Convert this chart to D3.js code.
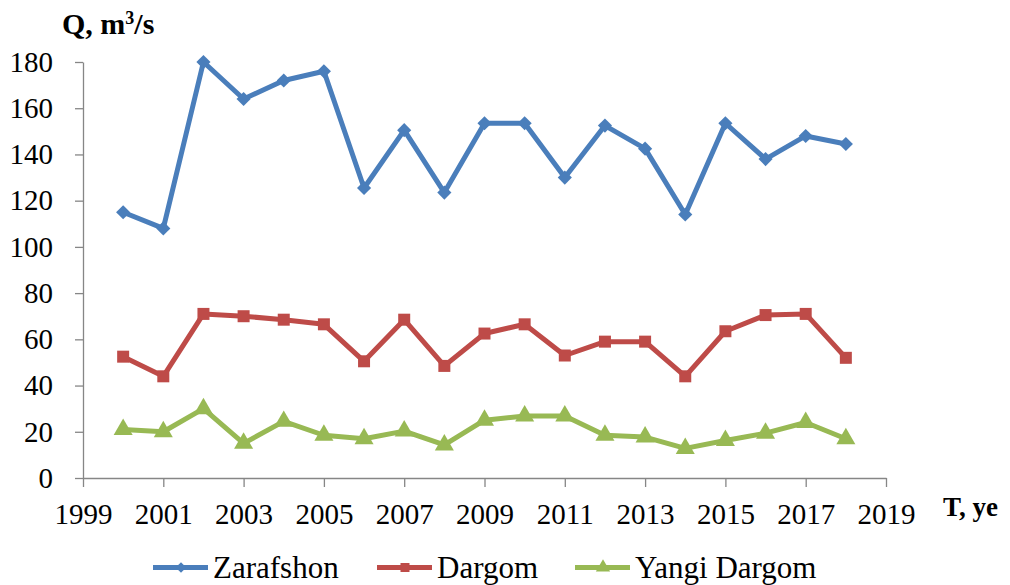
<!DOCTYPE html>
<html>
<head>
    <meta charset="utf-8">
    <title>Q, m3/s</title>
    <style>
        body { margin: 0; background: #fff; overflow: hidden; }
        svg text { font-family: "Liberation Serif", "Times New Roman", serif; fill: #000; }
        .axis path, .axis line { stroke: #868686; stroke-width: 1.3px; }
        .axis text { font-size: 29px; }
    </style>
</head>
<body>
    <script src="https://d3js.org/d3.v7.min.js"></script>
    <script>
        var width = 1010, height = 585;
        var serif = "'Liberation Serif', 'Times New Roman', serif";

        // Data
        var years = [2000, 2001, 2002, 2003, 2004, 2005, 2006, 2007, 2008, 2009,
                     2010, 2011, 2012, 2013, 2014, 2015, 2016, 2017, 2018];
        var zarafshon = [115, 108, 180, 164, 172, 176, 125.5, 150.5, 123.5, 153.5,
                         153.5, 130, 152.5, 142.5, 114, 153.5, 138, 148, 144.5];
        var dargom = [52.5, 44, 71, 70, 68.5, 66.5, 50.5, 68.5, 48.5, 62.5,
                      66.5, 53, 59, 59, 44, 63.5, 70.5, 71, 52];
        var yangiDargom = [21, 20, 30, 15, 24.5, 18.5, 17, 20.3, 14.3, 25,
                           26.8, 26.8, 18.5, 17.7, 12.8, 16.2, 19.4, 24, 17];
        var xTicks = [1999, 2001, 2003, 2005, 2007, 2009, 2011, 2013, 2015, 2017, 2019];
        var yTicks = [0, 20, 40, 60, 80, 100, 120, 140, 160, 180];

        var series = [
            { name: "Zarafshon", values: zarafshon, color: "#4A7EBB", marker: "diamond" },
            { name: "Dargom", values: dargom, color: "#BE4B48", marker: "square" },
            { name: "Yangi Dargom", values: yangiDargom, color: "#98B954", marker: "triangle" }
        ];

        var svg = d3.select("body").append("svg")
            .attr("width", width)
            .attr("height", height)
            .attr("font-family", serif);

        var x = d3.scaleLinear().domain([1999, 2019]).range([83, 886]);
        var y = d3.scaleLinear().domain([0, 180]).range([478, 62]);

        // axes
        svg.append("g")
            .attr("class", "axis")
            .attr("transform", "translate(0,478)")
            .call(d3.axisBottom(x).tickValues(xTicks).tickFormat(d3.format("d"))
                .tickSize(9).tickSizeOuter(0).tickPadding(16));

        svg.append("g")
            .attr("class", "axis")
            .attr("transform", "translate(83,0)")
            .call(d3.axisLeft(y).tickValues(yTicks).tickSize(8).tickSizeOuter(0).tickPadding(22));

        svg.selectAll(".axis").attr("font-family", serif).attr("font-size", null);

        // axis titles
        svg.append("text")
            .attr("x", 62).attr("y", 34)
            .attr("font-family", serif)
            .style("font-size", "30px").style("font-weight", "bold")
            .html("Q, m<tspan dy='-10' font-size='18px'>3</tspan><tspan dy='10'>/s</tspan>");

        svg.append("text")
            .attr("x", 943).attr("y", 516)
            .attr("font-family", serif)
            .style("font-size", "27px").style("font-weight", "bold")
            .text("T, ye");

        // markers: diamond = rotated square
        function marker(sel, type, s) {
            if (type === "triangle") {
                sel.attr("d", d3.symbol().type(d3.symbolTriangle).size(s * s * 0.8)());
            } else {
                sel.attr("d", d3.symbol().type(d3.symbolSquare).size(s * s)());
            }
        }
        var markerSize = { diamond: 10, square: 12, triangle: 14 };

        var line = d3.line()
            .x(function(d, i) { return x(years[i]); })
            .y(function(d) { return y(d); });

        series.forEach(function(s) {
            var g = svg.append("g");
            g.append("path")
                .attr("d", line(s.values))
                .attr("fill", "none")
                .attr("stroke", s.color)
                .attr("stroke-width", 5)
                .attr("stroke-linejoin", "round");
            g.selectAll("path.pt")
                .data(s.values)
                .enter().append("path")
                .attr("class", "pt")
                .call(marker, s.marker, markerSize[s.marker])
                .attr("transform", function(d, i) {
                    return "translate(" + x(years[i]) + "," + y(d) + ")" +
                        (s.marker === "diamond" ? " rotate(45)" : "");
                })
                .attr("fill", s.color);
        });

        // legend
        var legendX = [153, 377, 575];
        var legend = svg.append("g");
        series.forEach(function(s, i) {
            var lg = legend.append("g").attr("transform", "translate(" + legendX[i] + ",567.5)");
            lg.append("line")
                .attr("x1", 0).attr("x2", 55)
                .attr("stroke", s.color).attr("stroke-width", 5);
            lg.append("path")
                .call(marker, s.marker, markerSize[s.marker] * 0.75)
                .attr("transform", "translate(28,0)" + (s.marker === "diamond" ? " rotate(45)" : ""))
                .attr("fill", s.color);
            lg.append("text")
                .attr("x", 60).attr("y", 10.5)
                .attr("font-family", serif)
                .style("font-size", "31px")
                .text(s.name);
        });
    </script>
</body>
</html>
